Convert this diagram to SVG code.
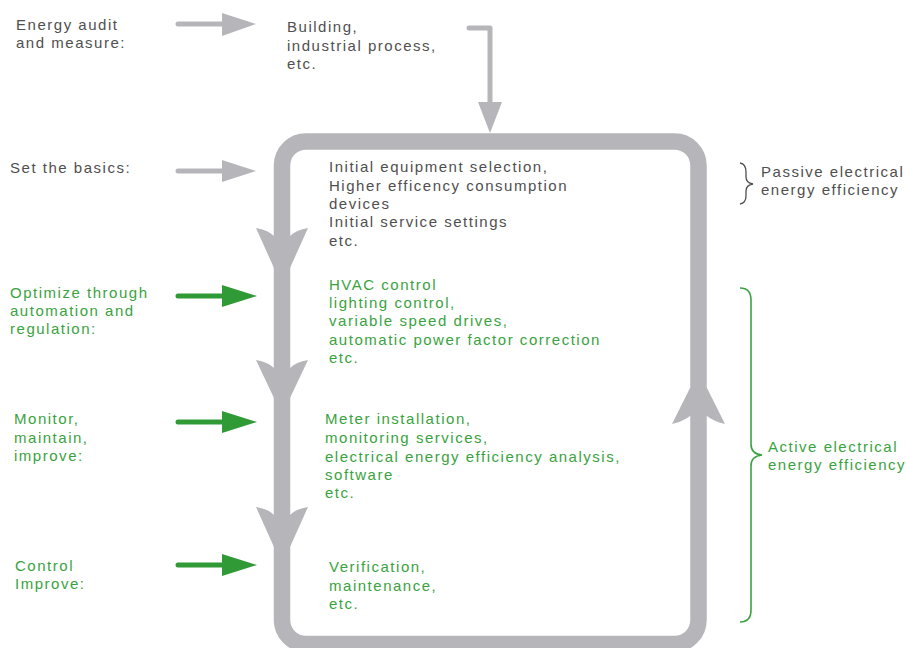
<svg xmlns="http://www.w3.org/2000/svg" width="906" height="648" viewBox="0 0 906 648">
<style>
text{font-family:"Liberation Sans",Arial,sans-serif;font-size:15px;letter-spacing:1.52px}
.g{fill:#4f4f4f}
.gr{fill:#3aa340}
.gline{stroke:#b6b6ba;stroke-width:5;stroke-linecap:round;fill:none}
.grline{stroke:#2f9a36;stroke-width:5;stroke-linecap:round;fill:none}
.gfill{fill:#b6b6ba}
.grfill{fill:#2f9a36}
</style>
<rect width="906" height="648" fill="#ffffff"/>
<g id="connectors">
  <rect x="282" y="141.5" width="416.5" height="502.5" rx="24" fill="none" stroke="#b6b6ba" stroke-width="16.5"/>
  <path class="gfill" d="M256,228 Q268,230 274,236 L290,236 Q296,230 308,228 L290,268 L274,268 Z"/>
  <path class="gfill" d="M256,360 Q268,362 274,368 L290,368 Q296,362 308,360 L290,398 L274,398 Z"/>
  <path class="gfill" d="M256,507 Q268,509 274,515 L290,515 Q296,509 308,507 L290,547 L274,547 Z"/>
  <path class="gfill" d="M672,424 Q684,421 690,416 L707,416 Q713,421 725,424 L707,388 L690,388 Z"/>
  <path class="gline" d="M178,24 L224,24"/>
  <path class="gfill" d="M222,13 L256,24 L222,36 Z"/>
  <path class="gline" d="M178,171 L224,171"/>
  <path class="gfill" d="M222,160 L256,171 L222,182 Z"/>
  <path class="gline" d="M469,28 L490,28 L490,104" stroke-linecap="round" stroke-linejoin="round"/>
  <path class="gfill" d="M478,102 L502,102 L490,133 Z"/>
  <path class="grline" d="M178,296 L224,296"/>
  <path class="grfill" d="M222,285 L257,296 L222,307 Z"/>
  <path class="grline" d="M178,422 L224,422"/>
  <path class="grfill" d="M222,411 L257,422 L222,433 Z"/>
  <path class="grline" d="M178,565 L224,565"/>
  <path class="grfill" d="M222,554 L257,565 L222,576 Z"/>
  <path d="M740,163 Q746,164 746,172 L746,177 Q746,183 753,184 Q746,185 746,191 L746,196 Q746,203 740,204" fill="none" stroke="#4f4f4f" stroke-width="1.3"/>
  <path d="M740,288 Q751,288 751,300 L751,444 Q751,454 762,455 Q751,456 751,466 L751,610 Q751,622 740,622" fill="none" stroke="#3aa340" stroke-width="1.6"/>
</g>
<g id="energy-audit" class="g"><text x="16" y="30">Energy audit</text><text x="16" y="48">and measure:</text></g>
<g id="building" class="g"><text x="287" y="32">Building,</text><text x="287" y="51">industrial process,</text><text x="287" y="69">etc.</text></g>
<g id="set-basics" class="g"><text x="10" y="173">Set the basics:</text></g>
<g id="initial" class="g"><text x="329" y="172">Initial equipment selection,</text><text x="329" y="191">Higher efficency consumption</text><text x="329" y="209">devices</text><text x="329" y="227">Initial service settings</text><text x="329" y="246">etc.</text></g>
<g id="passive" class="g"><text x="761" y="177">Passive electrical</text><text x="761" y="195">energy efficiency</text></g>
<g id="optimize" class="gr"><text x="10" y="298">Optimize through</text><text x="10" y="316">automation and</text><text x="10" y="334">regulation:</text></g>
<g id="hvac" class="gr"><text x="329" y="290">HVAC control</text><text x="329" y="308">lighting control,</text><text x="329" y="326">variable speed drives,</text><text x="329" y="345">automatic power factor correction</text><text x="329" y="363">etc.</text></g>
<g id="monitor" class="gr"><text x="14" y="424">Monitor,</text><text x="14" y="443">maintain,</text><text x="14" y="461">improve:</text></g>
<g id="meter" class="gr"><text x="325" y="424">Meter installation,</text><text x="325" y="443">monitoring services,</text><text x="325" y="462">electrical energy efficiency analysis,</text><text x="325" y="480">software</text><text x="325" y="498">etc.</text></g>
<g id="control" class="gr"><text x="15" y="571">Control</text><text x="15" y="589">Improve:</text></g>
<g id="verification" class="gr"><text x="329" y="572">Verification,</text><text x="329" y="591">maintenance,</text><text x="329" y="609">etc.</text></g>
<g id="active" class="gr"><text x="768" y="452">Active electrical</text><text x="768" y="470">energy efficiency</text></g>
</svg>
